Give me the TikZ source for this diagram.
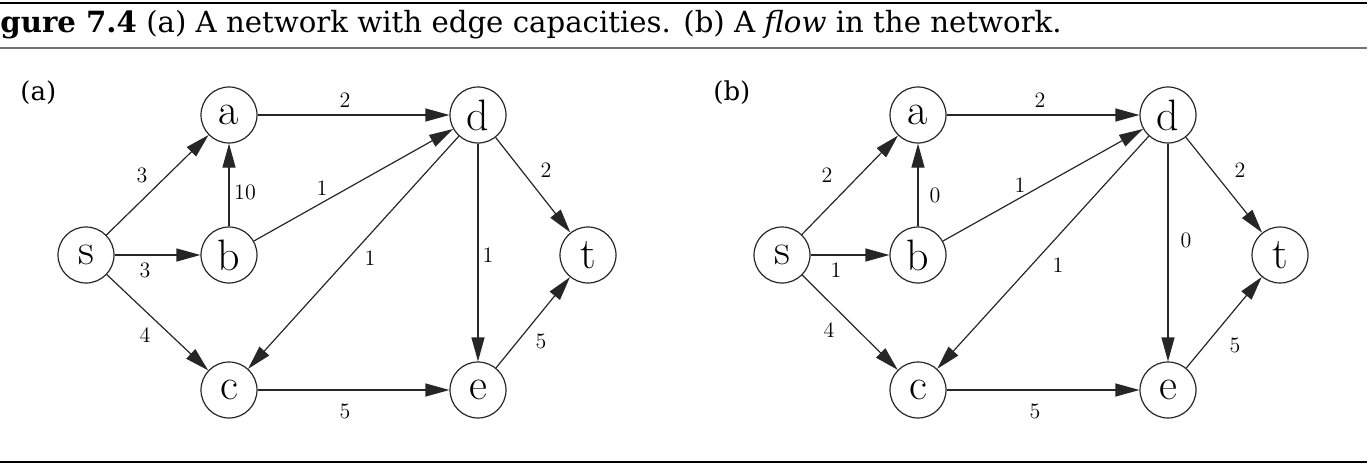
\documentclass[tikz,border=0pt]{standalone}
\usepackage{fontspec}
\newfontfamily\capfont{DejaVu Serif}
\usetikzlibrary{arrows.meta}
\begin{document}
\begin{tikzpicture}[x=0.5pt,y=-0.5pt,
  vtx/.style={circle, draw=black!85, line width=0.6pt, minimum size=28pt, inner sep=0pt, font=\fontsize{22}{24}\selectfont},
  arr/.style={-{Triangle[length=12pt,width=6.5pt]}, line width=0.6pt, draw=black!85},
  lbl/.style={inner sep=0pt, font=\fontsize{11}{12}\selectfont},
  panel/.style={inner sep=0pt, anchor=base west, font=\capfont\fontsize{13}{15}\selectfont},
  rulethick/.style={line width=1.4pt, black},
  rulegray/.style={line width=1.2pt, black!55}]
\useasboundingbox (0,0) rectangle (1369,465);
% frame rules
\draw[rulethick] (0,3) -- (1367,3);
\draw[rulegray] (0,48) -- (1367,48);
\draw[rulethick] (0,462) -- (1367,462);
% caption
\node[anchor=base west, inner sep=0pt, font=\capfont\fontsize{14.6}{17}\selectfont] (title) at (0,33)
  {\textbf{gure 7.4} (a) A network with edge capacities. (b) A \textit{flow} in the network.};
% ---------- panel (a)
\node[panel] (pa) at (20,101) {(a)};
\node[vtx] (sA) at (86,255) {s};
\node[vtx] (aA) at (229,115) {a};
\node[vtx] (bA) at (229,255) {b};
\node[vtx] (cA) at (229,390) {c};
\node[vtx] (dA) at (478,115) {d};
\node[vtx] (eA) at (478,390) {e};
\node[vtx] (tA) at (588,255) {t};
\draw[arr] (sA) -- (aA);
\draw[arr] (sA) -- (bA);
\draw[arr] (sA) -- (cA);
\draw[arr] (bA) -- (aA);
\draw[arr] (aA) -- (dA);
\draw[arr] (bA) -- (dA);
\draw[arr] (dA) -- (cA);
\draw[arr] (dA) -- (eA);
\draw[arr] (dA) -- (tA);
\draw[arr] (cA) -- (eA);
\draw[arr] (eA) -- (tA);
\node[lbl] (l1) at (142,175) {3};
\node[lbl] (l2) at (145,270) {3};
\node[lbl] (l3) at (145,335) {4};
\node[lbl] (l4) at (245,192) {10};
\node[lbl] (l5) at (345,100) {2};
\node[lbl] (l6) at (322,188) {1};
\node[lbl] (l7) at (370,258) {1};
\node[lbl] (l8) at (488,255) {1};
\node[lbl] (l9) at (546,170) {2};
\node[lbl] (l10) at (541,341) {5};
\node[lbl] (l11) at (345,411) {5};
% ---------- panel (b)
\node[panel] (pb) at (713,101) {(b)};
\node[vtx] (sB) at (782,255) {s};
\node[vtx] (aB) at (918,115) {a};
\node[vtx] (bB) at (918,255) {b};
\node[vtx] (cB) at (918,390) {c};
\node[vtx] (dB) at (1168,115) {d};
\node[vtx] (eB) at (1168,390) {e};
\node[vtx] (tB) at (1280,255) {t};
\draw[arr] (sB) -- (aB);
\draw[arr] (sB) -- (bB);
\draw[arr] (sB) -- (cB);
\draw[arr] (bB) -- (aB);
\draw[arr] (aB) -- (dB);
\draw[arr] (bB) -- (dB);
\draw[arr] (dB) -- (cB);
\draw[arr] (dB) -- (eB);
\draw[arr] (dB) -- (tB);
\draw[arr] (cB) -- (eB);
\draw[arr] (eB) -- (tB);
\node[lbl] (m1) at (827,175) {2};
\node[lbl] (m2) at (836,270) {1};
\node[lbl] (m3) at (829,330) {4};
\node[lbl] (m4) at (935,195) {0};
\node[lbl] (m5) at (1040,100) {2};
\node[lbl] (m6) at (1020,185) {1};
\node[lbl] (m7) at (1058,265) {1};
\node[lbl] (m8) at (1186,240) {0};
\node[lbl] (m9) at (1240,170) {2};
\node[lbl] (m10) at (1235,345) {5};
\node[lbl] (m11) at (1035,411) {5};
\end{tikzpicture}
\end{document}
